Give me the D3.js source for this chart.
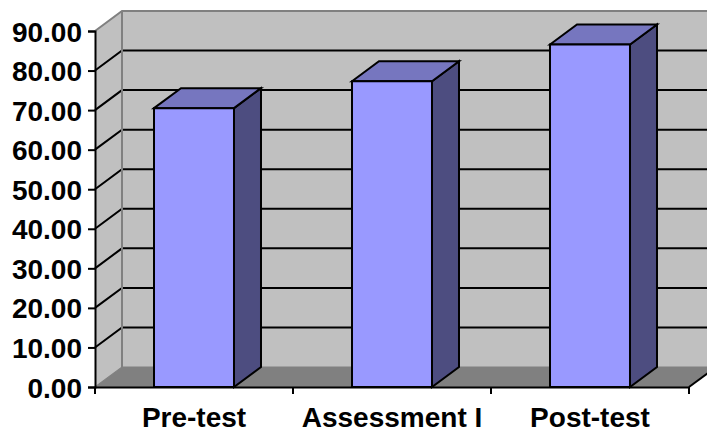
<!DOCTYPE html>
<html>
<head>
<meta charset="utf-8">
<script src="https://cdn.jsdelivr.net/npm/d3@7"></script>
<style>
  html, body { margin: 0; padding: 0; background: #ffffff; }
  svg { display: block; }
  text { font-family: "Liberation Sans", Arial, sans-serif; font-weight: bold; fill: #000; }
</style>
</head>
<body>
<svg id="chart" width="707" height="432"></svg>
<script>
// Mean scores per stage
const categories = ["Pre-test", "Assessment I", "Post-test"];
const scores = [70.5, 77.3, 86.6];
const yTicks = [0, 10, 20, 30, 40, 50, 60, 70, 80, 90];

const W = 707, H = 432;
const svg = d3.select("#chart");

// Front plane of the 3D box and the depth offset to the back wall
const x0 = 95, x1 = 689, yBase = 387, yTop = 31;
const dx = 27, dy = -20;

const y = d3.scaleLinear().domain([0, 90]).range([yBase, yTop]);
const xCat = d3.scaleBand().domain(categories).range([x0, x1]).padding(0);
const xBar = d3.scaleBand().domain(categories).range([x0, x1])
  .paddingInner(0.596).paddingOuter(0.298);

const line = d3.line();
const poly = pts => line(pts) + "Z";

// Back wall
svg.append("path")
  .attr("d", poly([[x0 + dx, y(90) + dy], [x1 + dx, y(90) + dy], [x1 + dx, y(0) + dy], [x0 + dx, y(0) + dy]]))
  .attr("fill", "#c0c0c0");
// Side wall
svg.append("path")
  .attr("d", poly([[x0, y(0)], [x0 + dx, y(0) + dy], [x0 + dx, y(90) + dy], [x0, y(90)]]))
  .attr("fill", "#c0c0c0");
// Floor
svg.append("path")
  .attr("d", poly([[x0, y(0)], [x1, y(0)], [x1 + dx, y(0) + dy], [x0 + dx, y(0) + dy]]))
  .attr("fill", "#808080");

// Gridlines across side wall and back wall
const grid = yTicks.filter(v => v > 0 && v < 90);
svg.append("g").selectAll("path").data(grid).join("path")
  .attr("d", v => line([[x0, y(v)], [x0 + dx, y(v) + dy], [x1 + dx, y(v) + dy]]))
  .attr("fill", "none").attr("stroke", "#000").attr("stroke-width", 2);

// Wall edges
const edge = svg.append("g").attr("fill", "none").attr("stroke", "#808080").attr("stroke-width", 2);
edge.append("path").attr("d", line([[x0, y(90)], [x0 + dx, y(90) + dy], [x1 + dx, y(90) + dy]]));
edge.append("path").attr("d", line([[x0 + dx, y(90) + dy], [x0 + dx, y(0) + dy]]));
edge.append("path").attr("d", line([[x0, y(0)], [x0 + dx, y(0) + dy], [x1 + dx, y(0) + dy]]))
  .attr("stroke-width", 1.2);
// Right edge of the floor
svg.append("path").attr("d", line([[x1, y(0)], [x1 + dx, y(0) + dy]]))
  .attr("stroke", "#000").attr("stroke-width", 2);

// Bars as boxes
const bars = svg.append("g").selectAll("g").data(categories.map((c, i) => ({ c, v: scores[i] })))
  .join("g")
  .attr("stroke", "#000").attr("stroke-width", 2).attr("stroke-linejoin", "miter");
bars.append("path") // side
  .attr("d", d => {
    const r = xBar(d.c) + xBar.bandwidth();
    return poly([[r, y(d.v)], [r + dx, y(d.v) + dy], [r + dx, y(0) + dy], [r, y(0)]]);
  })
  .attr("fill", "#4d4d80");
bars.append("path") // top
  .attr("d", d => {
    const l = xBar(d.c), r = l + xBar.bandwidth();
    return poly([[l, y(d.v)], [l + dx, y(d.v) + dy], [r + dx, y(d.v) + dy], [r, y(d.v)]]);
  })
  .attr("fill", "#7676bf");
bars.append("path") // front
  .attr("d", d => {
    const l = xBar(d.c), r = l + xBar.bandwidth();
    return poly([[l, y(d.v)], [r, y(d.v)], [r, y(0)], [l, y(0)]]);
  })
  .attr("fill", "#9999ff");

// Value axis
const yAxis = svg.append("g").attr("transform", `translate(${x0},0)`)
  .call(d3.axisLeft(y).tickValues(yTicks).tickFormat(d3.format(".2f")).tickSize(7).tickPadding(6));
yAxis.select(".domain").attr("stroke", "#000").attr("stroke-width", 2);
yAxis.selectAll(".tick line").attr("stroke", "#000").attr("stroke-width", 2);
yAxis.selectAll(".tick text").attr("font-size", 28).attr("font-family", "Liberation Sans, Arial, sans-serif")
  .attr("font-weight", "bold").attr("fill", "#000").attr("dy", "0.36em");

// Category axis
const xAxis = svg.append("g").attr("transform", `translate(0,${yBase})`)
  .call(d3.axisBottom(xCat).tickSize(0).tickPadding(20));
xAxis.select(".domain").attr("stroke", "#000").attr("stroke-width", 2);
xAxis.selectAll(".tick text").attr("font-size", 28).attr("font-family", "Liberation Sans, Arial, sans-serif")
  .attr("font-weight", "bold").attr("fill", "#000");
// Ticks at category boundaries
const bounds = [x0].concat(categories.map(c => xCat(c) + xCat.bandwidth()));
xAxis.append("g").selectAll("line").data(bounds).join("line")
  .attr("x1", d => d).attr("x2", d => d).attr("y1", 0).attr("y2", 7)
  .attr("stroke", "#000").attr("stroke-width", 2);
</script>
</body>
</html>
